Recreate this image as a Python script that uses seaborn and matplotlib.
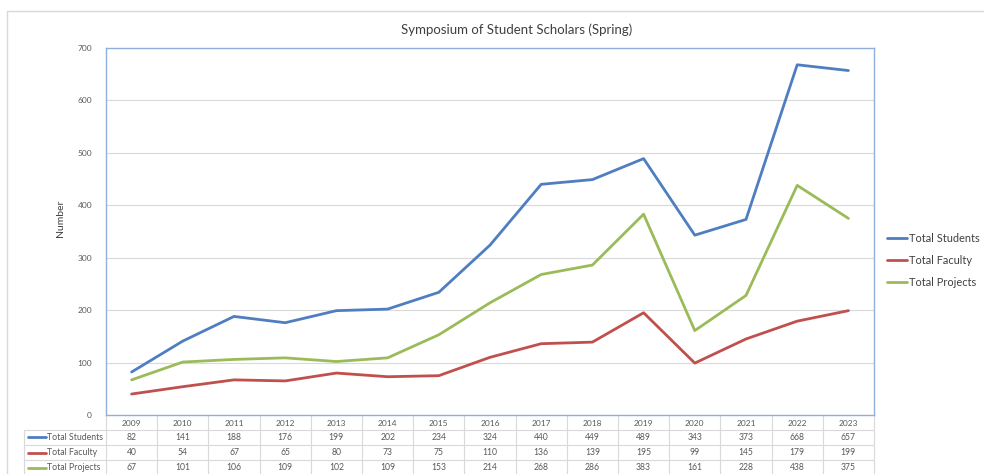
import seaborn as sns
import matplotlib.pyplot as plt
import matplotlib.transforms as mtransforms
import pandas as pd

years = ["2009", "2010", "2011", "2012", "2013", "2014", "2015", "2016",
         "2017", "2018", "2019", "2020", "2021", "2022", "2023"]
total_students = [82, 141, 188, 176, 199, 202, 234, 324, 440, 449, 489, 343, 373, 668, 657]
total_faculty = [40, 54, 67, 65, 80, 73, 75, 110, 136, 139, 195, 99, 145, 179, 199]
total_projects = [67, 101, 106, 109, 102, 109, 153, 214, 268, 286, 383, 161, 228, 438, 375]
series_names = ["Total Students", "Total Faculty", "Total Projects"]
colors = ["#4F7EC0", "#C0504D", "#9BBB59"]

df = pd.DataFrame({
    "Year": years * 3,
    "Series": [n for n in series_names for _ in years],
    "Value": total_students + total_faculty + total_projects,
})

sns.set_style("white")
plt.rcParams["font.family"] = ["Lato", "DejaVu Sans"]

fig = plt.figure(figsize=(9.84, 4.74), dpi=100)
ax = fig.add_axes([106 / 984, 1 - 415 / 474, 768 / 984, 367 / 474])

sns.lineplot(data=df, x="Year", y="Value", hue="Series", palette=colors,
             linewidth=2, ax=ax, sort=False)

ax.set_xlim(-0.5, len(years) - 0.5)
ax.set_ylim(0, 700)
ax.set_yticks(range(0, 701, 100))
ax.tick_params(axis="y", labelsize=6, colors="#595959", length=0, pad=10)
ax.set_xticks([])
ax.set_xlabel("")
ax.set_ylabel("")
fig.text(60 / 984, 1 - 218 / 474, "Number", rotation=90, fontsize=7.5,
         color="#404040", ha="center", va="center")
ax.grid(axis="y", color="#D9D9D9", linewidth=0.8)
for s in ax.spines.values():
    s.set_color("#8EB0DA")
    s.set_linewidth(1)
fig.text(517 / 984, 1 - 30 / 474, "Symposium of Student Scholars (Spring)",
         fontsize=9.5, color="#404040", ha="center", va="center")

leg = ax.legend(loc="upper left", bbox_to_anchor=(1.004, 1 - 175 / 367),
                frameon=False, fontsize=7.9, handlelength=1.8,
                handletextpad=0.2, labelspacing=1.0, labelcolor="#404040")

# Data table under the axes
trans = mtransforms.blended_transform_factory(ax.transData, ax.transAxes)
px = 1 / 367  # one pixel in axes y
row_y = [-8 * px, -22 * px, -37.5 * px, -52.5 * px]
row_edges = [0, -15 * px, -30 * px, -45 * px, -60 * px]
grid_kw = dict(color="#D9D9D9", linewidth=0.8, clip_on=False)
for j, yr in enumerate(years):
    ax.text(j, row_y[0], yr, transform=trans, ha="center", va="center",
            fontsize=6, color="#595959")
for i, vals in enumerate([total_students, total_faculty, total_projects]):
    for j, v in enumerate(vals):
        ax.text(j, row_y[i + 1], str(v), transform=trans, ha="center",
                va="center", fontsize=6.2, color="#595959")
# vertical separators
for j in range(len(years) + 1):
    ax.plot([j - 0.5, j - 0.5], [0, row_edges[-1]], transform=trans, **grid_kw)
# horizontal rules
unit = 768 / len(years)
x_left = -0.5 - 82 / unit
for e in row_edges[1:]:
    ax.plot([x_left, len(years) - 0.5], [e, e], transform=trans, **grid_kw)
ax.plot([x_left, x_left], [row_edges[1], row_edges[-1]], transform=trans, **grid_kw)
# row labels with legend keys
for i, name in enumerate(series_names):
    ax.plot([x_left + 4 / unit, x_left + 22 / unit], [row_y[i + 1]] * 2,
            transform=trans, color=colors[i], linewidth=2, clip_on=False)
    ax.text(x_left + 23 / unit, row_y[i + 1], name, transform=trans,
            ha="left", va="center", fontsize=6.3, color="#595959")

# outer chart frame
fig.add_artist(plt.Rectangle((7 / 984, -0.1), 1.1, 1 - 11 / 474 + 0.1,
                             transform=fig.transFigure, fill=False,
                             edgecolor="#D9D9D9", linewidth=1))

fig.savefig("out.png", dpi=100)
